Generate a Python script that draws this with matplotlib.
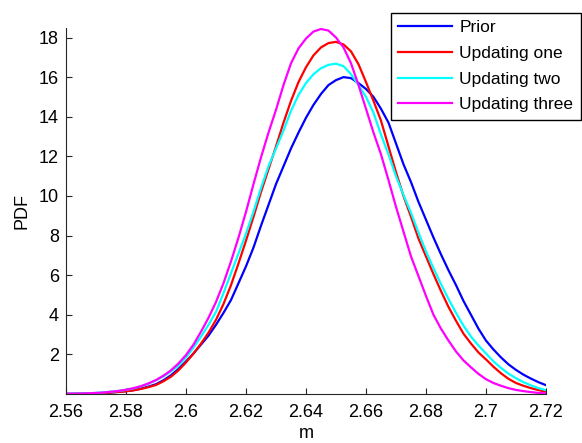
import numpy as np
import matplotlib.pyplot as plt
from matplotlib.ticker import FormatStrFormatter

plt.rcParams['font.family'] = ['Liberation Sans', 'DejaVu Sans']

# m grid (step 0.0025) and PDF values
m = np.round(np.linspace(2.56, 2.72, 65), 4)

prior = [0.01, 0.015, 0.02, 0.03, 0.04, 0.06, 0.08, 0.11, 0.15, 0.2,
         0.28, 0.38, 0.5, 0.7, 0.95, 1.27, 1.65, 2.05, 2.5, 2.95,
         3.5, 4.1, 4.75, 5.6, 6.45, 7.4, 8.5, 9.55, 10.6, 11.5,
         12.4, 13.2, 13.95, 14.6, 15.15, 15.6, 15.85, 16.0, 15.95, 15.7,
         15.4, 15.0, 14.4, 13.7, 12.65, 11.6, 10.7, 9.7, 8.8, 7.9,
         7.05, 6.25, 5.5, 4.7, 4.0, 3.3, 2.7, 2.25, 1.85, 1.5,
         1.22, 0.98, 0.78, 0.6, 0.45]
upd_one = [0.01, 0.015, 0.02, 0.03, 0.04, 0.06, 0.08, 0.11, 0.14, 0.19,
           0.26, 0.35, 0.46, 0.65, 0.88, 1.2, 1.6, 2.05, 2.55, 3.1,
           3.75, 4.55, 5.5, 6.6, 7.75, 8.95, 10.2, 11.35, 12.5, 13.7,
           14.8, 15.75, 16.5, 17.1, 17.5, 17.72, 17.78, 17.65, 17.3, 16.65,
           15.75, 14.8, 13.8, 12.5, 11.2, 10.0, 8.95, 7.85, 6.95, 6.05,
           5.2, 4.4, 3.7, 3.05, 2.55, 2.1, 1.75, 1.38, 1.05, 0.77,
           0.56, 0.42, 0.3, 0.2, 0.12]
upd_two = [0.02, 0.02, 0.03, 0.04, 0.06, 0.09, 0.12, 0.16, 0.21, 0.29,
           0.39, 0.53, 0.7, 0.9, 1.15, 1.45, 1.85, 2.35, 2.9, 3.5,
           4.15, 5.1, 6.1, 7.1, 8.1, 9.2, 10.4, 11.5, 12.4, 13.3,
           14.3, 15.1, 15.7, 16.15, 16.45, 16.62, 16.68, 16.55, 16.15, 15.6,
           15.0, 14.2, 13.1, 12.1, 11.0, 10.05, 9.15, 8.15, 7.2, 6.35,
           5.55, 4.8, 4.1, 3.45, 2.9, 2.45, 2.05, 1.65, 1.32, 1.03,
           0.8, 0.6, 0.44, 0.3, 0.2]
upd_three = [0.02, 0.02, 0.03, 0.04, 0.06, 0.08, 0.12, 0.16, 0.22, 0.3,
             0.4, 0.54, 0.71, 0.93, 1.2, 1.55, 1.97, 2.5, 3.15, 3.85,
             4.65, 5.6, 6.7, 7.9, 9.2, 10.6, 11.95, 13.2, 14.35, 15.6,
             16.7, 17.45, 17.95, 18.3, 18.43, 18.35, 18.0, 17.5, 16.7, 15.6,
             14.4, 13.2, 12.1, 10.8, 9.45, 8.2, 6.95, 5.95, 4.95, 4.0,
             3.3, 2.7, 2.15, 1.7, 1.35, 1.02, 0.75, 0.56, 0.42, 0.3,
             0.21, 0.15, 0.1, 0.06, 0.035]

series = [prior, upd_one, upd_two, upd_three]
labels = ['Prior', 'Updating one', 'Updating two', 'Updating three']
colors = ['#0000ff', '#ff0000', '#00ffff', '#ff00ff']

fig = plt.figure(figsize=(5.82, 4.43), dpi=100)
ax = fig.add_axes([66 / 582, 1 - 394 / 443, 480 / 582, 366 / 443])

for y, lab, c in zip(series, labels, colors):
    ax.plot(m, y, color=c, lw=1.6, label=lab)

ax.set_xlim(2.56, 2.72)
ax.set_ylim(0.005, max(upd_three) + 0.05)
ax.set_xticks(np.arange(2.56, 2.7201, 0.02))
ax.set_yticks(np.arange(2, 19, 2))
ax.xaxis.set_major_formatter(FormatStrFormatter('%g'))
ax.yaxis.set_major_formatter(FormatStrFormatter('%g'))

for s in ['top', 'right']:
    ax.spines[s].set_visible(False)
for s in ['left', 'bottom']:
    ax.spines[s].set_color('#262626')
    ax.spines[s].set_linewidth(0.8)
ax.tick_params(direction='in', length=4, width=0.8, color='#262626',
               labelsize=13)
ax.tick_params(axis='x', pad=7)
ax.tick_params(axis='y', pad=5)

ax.set_xlabel('m', fontsize=13, labelpad=3)
ax.set_ylabel('PDF', fontsize=13, labelpad=6)

leg = fig.legend(loc='upper right', bbox_to_anchor=(581 / 582, 1 - 12.5 / 443),
                 fontsize=12.5, frameon=True, fancybox=False, handlelength=3.1,
                 handletextpad=0.4, borderpad=0.45, labelspacing=0.6,
                 borderaxespad=0)
leg.get_frame().set_edgecolor('black')
leg.get_frame().set_linewidth(1.0)
leg.get_frame().set_alpha(1)

fig.savefig('out.png', dpi=100)
